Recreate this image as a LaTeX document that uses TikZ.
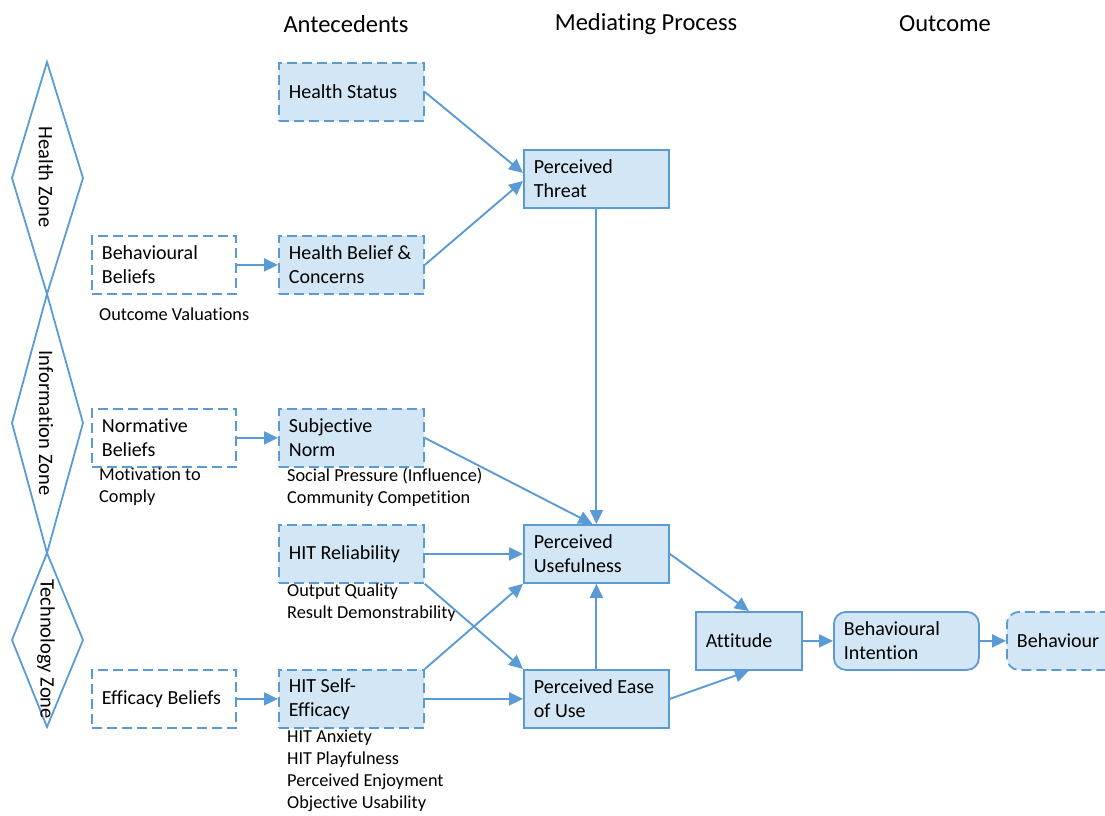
\documentclass[tikz,border=0pt]{standalone}
\usepackage{fontspec}
\setmainfont{Carlito}[Ligatures={NoCommon,NoRequired,NoContextual}]
\usetikzlibrary{arrows.meta}
\definecolor{edge}{HTML}{5B9BD5}
\definecolor{boxfill}{HTML}{D2E6F5}
\begin{document}
\begin{tikzpicture}[x=1pt,y=-1pt,
  every node/.style={inner sep=0pt},
  box/.style={draw=edge, line width=1.8pt, fill=boxfill, anchor=north west,
    minimum height=58pt, text width=125pt, inner xsep=10pt, align=flush left,
    font=\fontsize{20}{24}\selectfont},
  dbox/.style={box, dash pattern=on 10pt off 5pt},
  wbox/.style={dbox, fill=white},
  note/.style={anchor=west, align=flush left, font=\fontsize{18.3}{22}\selectfont},
  head/.style={font=\fontsize{24.5}{28}\selectfont},
  zone/.style={rotate=-90, font=\fontsize{20.5}{24}\selectfont},
  link/.style={draw=edge, line width=1.9pt, -{Triangle[length=14pt,width=13pt]}},
  diam/.style={draw=edge, line width=1.8pt, line join=miter}]
\clip (0,0) rectangle (1105,815);

% column headings
\node[head] (h1) at (346,24) {Antecedents};
\node[head] (h2) at (646,24) {Mediating Process};
\node[head] (h3) at (945,24) {Outcome};

% zone diamonds
\draw[diam] (47,62) -- (83,178) -- (47,294) -- (12,178) -- cycle;
\draw[diam] (47,294) -- (83,423) -- (47,553) -- (12,423) -- cycle;
\draw[diam] (47,553) -- (83,640) -- (47,727) -- (12,640) -- cycle;
\node[zone] (zh) at (46,177) {Health Zone};
\node[zone] (zi) at (46,423) {Information Zone};
\node[zone] (zt) at (46,649) {Technology Zone};

% antecedents
\node[dbox] (hs) at (278,62) {Health Status};
\node[wbox, text width=124pt] (bb) at (91,235) {Behavioural\\Beliefs};
\node[dbox] (hb) at (278,235) {Health Belief \&\\Concerns};
\node[wbox, text width=124pt] (nb) at (91,408) {Normative\\Beliefs};
\node[dbox] (sn) at (278,408) {Subjective\\Norm};
\node[dbox] (rel) at (278,524) {HIT Reliability};
\node[wbox, text width=124pt] (eb) at (91,669) {Efficacy Beliefs};
\node[dbox] (se) at (278,669) {HIT Self-\\Efficacy};

% notes under the boxes
\node[note] (n1) at (99,314) {Outcome Valuations};
\node[note] (n2) at (99,487) {Motivation to\\Comply};
\node[note] (n3) at (287,487) {Social Pressure (Influence)\\Community Competition};
\node[note] (n4) at (287,603) {Output Quality\\Result Demonstrability};
\node[note] (n5) at (287,771) {HIT Anxiety\\HIT Playfulness\\Perceived Enjoyment\\Objective Usability};

% mediating process
\node[box] (pt) at (523,149) {Perceived\\Threat};
\node[box] (pu) at (523,524) {Perceived\\Usefulness};
\node[box] (pe) at (523,669) {Perceived Ease\\of Use};

% outcome
\node[box, text width=86pt] (att) at (695,611) {Attitude};
\node[box, rounded corners=12pt] (bi) at (833,611) {Behavioural\\Intention};
\node[dbox, rounded corners=12pt] (bh) at (1006,611) {Behaviour};

% connectors
\draw[link] (hs.east) -- ([yshift=6pt]pt.west);
\draw[link] (hb.east) -- ([yshift=-2pt]pt.west);
\draw[link] (bb.east) -- (hb.west);
\draw[link] (nb.east) -- (sn.west);
\draw[link] (eb.east) -- (se.west);
\draw[link] (pt.south) -- (pu.north);
\draw[link] (sn.east) -- ([xshift=-4pt]pu.north);
\draw[link] (rel.east) -- (pu.west);
\draw[link] (rel.south east) -- (pe.north west);
\draw[link] (se.north east) -- (pu.south west);
\draw[link] (se.east) -- (pe.west);
\draw[link] (pe.north) -- (pu.south);
\draw[link] (pu.east) -- (att.north);
\draw[link] (pe.east) -- (att.south);
\draw[link] (att.east) -- (bi.west);
\draw[link] (bi.east) -- (bh.west);
\end{tikzpicture}
\end{document}
